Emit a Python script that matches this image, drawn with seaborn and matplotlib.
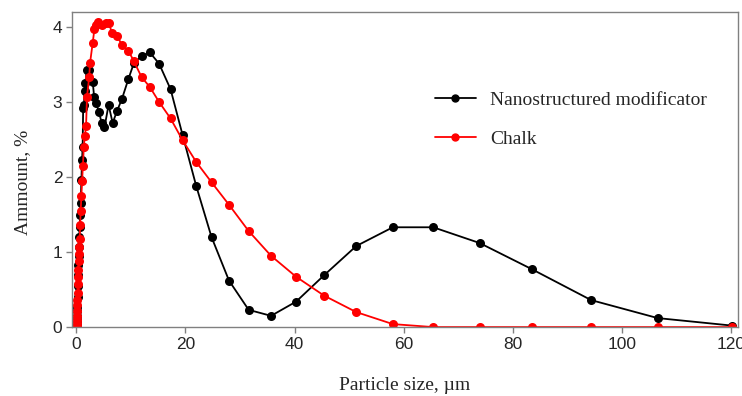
import matplotlib
matplotlib.use("Agg")
import matplotlib.pyplot as plt
from matplotlib.lines import Line2D
import pandas as pd
import seaborn as sns

# Particle size distribution data
nano_size = [0.08, 0.10, 0.12, 0.14, 0.16, 0.18, 0.21, 0.24, 0.27, 0.31, 0.35, 0.40,
             0.45, 0.51, 0.58, 0.66, 0.75, 0.85, 0.97, 1.10, 1.20, 1.30, 1.45, 1.55,
             1.70, 1.95, 2.40, 3.05, 3.30, 3.70, 4.20, 4.70, 5.20, 5.95, 6.70, 7.50,
             8.40, 9.60, 10.6, 12.0, 13.5, 15.2, 17.3, 19.5, 22.0, 24.8, 28.0, 31.6,
             35.7, 40.3, 45.4, 51.3, 58.0, 65.4, 73.9, 83.5, 94.3, 106.5, 120.1]
nano_amount = [0.0, 0.01, 0.03, 0.06, 0.10, 0.15, 0.22, 0.27, 0.40, 0.55, 0.70, 0.83,
               0.95, 1.07, 1.20, 1.33, 1.50, 1.66, 1.96, 2.23, 2.40, 2.92, 2.96, 3.15,
               3.25, 3.42, 3.42, 3.27, 3.07, 2.98, 2.86, 2.72, 2.66, 2.96, 2.72, 2.88,
               3.04, 3.31, 3.52, 3.61, 3.66, 3.51, 3.17, 2.56, 1.88, 1.20, 0.62, 0.23,
               0.15, 0.34, 0.69, 1.08, 1.33, 1.33, 1.12, 0.77, 0.36, 0.12, 0.02]

chalk_size = [0.08, 0.10, 0.12, 0.14, 0.16, 0.18, 0.21, 0.24, 0.27, 0.31, 0.35, 0.40,
              0.45, 0.51, 0.58, 0.66, 0.75, 0.85, 0.97, 1.10, 1.25, 1.42, 1.62, 1.83,
              2.00, 2.40, 2.56, 3.05, 3.36, 3.70, 4.10, 4.70, 5.40, 6.10, 6.50, 7.50,
              8.40, 9.60, 10.6, 12.0, 13.5, 15.2, 17.3, 19.5, 22.0, 24.8, 28.0, 31.6,
              35.7, 40.3, 45.4, 51.3, 58.0, 65.4, 73.9, 83.5, 94.3, 106.5, 120.1]
chalk_amount = [0.0, 0.02, 0.05, 0.10, 0.15, 0.22, 0.30, 0.36, 0.45, 0.58, 0.67, 0.76,
                0.88, 0.98, 1.07, 1.18, 1.36, 1.55, 1.75, 1.94, 2.15, 2.40, 2.55, 2.68,
                3.07, 3.33, 3.52, 3.79, 3.97, 4.03, 4.06, 4.03, 4.05, 4.05, 3.92, 3.88,
                3.76, 3.68, 3.54, 3.33, 3.20, 3.00, 2.78, 2.49, 2.20, 1.93, 1.63, 1.28,
                0.95, 0.67, 0.42, 0.20, 0.04, 0.0, 0.0, 0.0, 0.0, 0.0, 0.0]

series_names = ["Nanostructured modificator", "Chalk"]
series_colors = ["black", "red"]

df = pd.concat([
    pd.DataFrame({"size": nano_size, "amount": nano_amount, "series": series_names[0]}),
    pd.DataFrame({"size": chalk_size, "amount": chalk_amount, "series": series_names[1]}),
])

sns.set_style("ticks")
serif = ["Liberation Serif", "DejaVu Serif"]
sans = ["Liberation Sans", "DejaVu Sans"]

fig = plt.figure(figsize=(7.42, 3.96), dpi=100)
ax = fig.add_axes([0.097, 0.174, 0.8976, 0.796])

for name, color in zip(series_names, series_colors):
    sns.lineplot(data=df[df["series"] == name], x="size", y="amount", ax=ax,
                 color=color, marker="o", markersize=6.5, markeredgewidth=0,
                 linewidth=1.3, sort=False, estimator=None, legend=False)

ax.set_xlim(-0.75, 121.2)
ax.set_ylim(0, 4.2)
ax.set_xticks([0, 20, 40, 60, 80, 100, 120])
ax.set_yticks([0, 1, 2, 3, 4])
ax.tick_params(direction="out", length=4, width=1, color="#808080",
               labelsize=12.5, pad=3)
for lab in ax.get_xticklabels() + ax.get_yticklabels():
    lab.set_family(sans)
for sp in ax.spines.values():
    sp.set_color("#808080")
    sp.set_linewidth(1)

ax.set_xlabel("Particle size, µm", fontsize=14, family=serif, labelpad=18)
ax.set_ylabel("Ammount, %", fontsize=14, family=serif)
ax.yaxis.set_label_coords(-0.062, 0.46)

handles = [Line2D([], [], color=c, marker="o", markersize=5, linewidth=1.3)
           for c in series_colors]
ax.legend(handles, series_names, loc="upper left", bbox_to_anchor=(0.573, 0.795),
          bbox_transform=fig.transFigure, frameon=False, borderpad=0,
          handlelength=2.1, handletextpad=0.75, labelspacing=1.1,
          prop={"family": serif, "size": 14})

fig.savefig("out.png", dpi=100)
